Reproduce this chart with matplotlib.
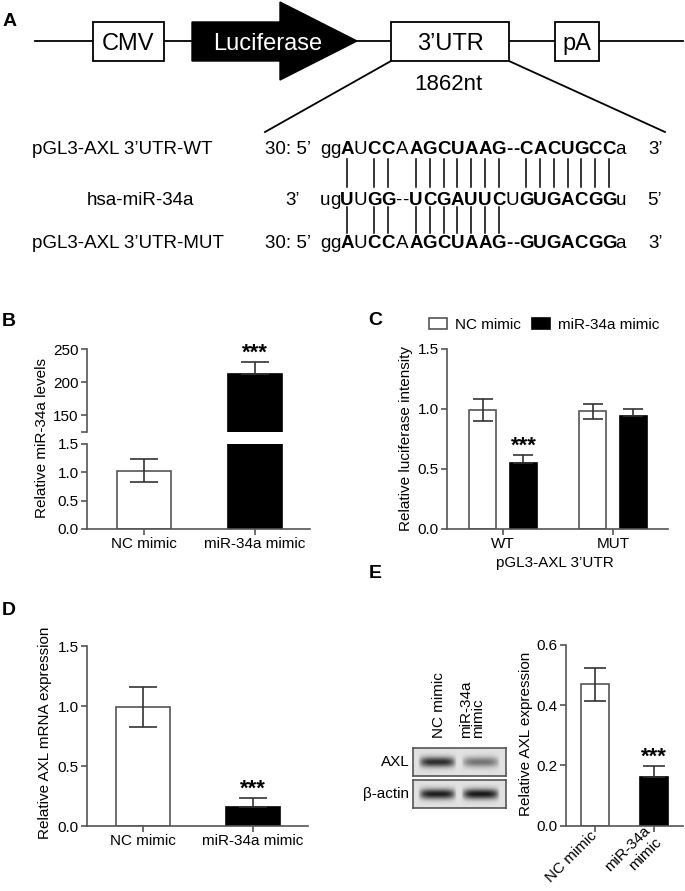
import numpy as np
import matplotlib
matplotlib.use('Agg')
import matplotlib.pyplot as plt
from matplotlib.patches import Rectangle, Polygon
from matplotlib.ticker import FormatStrFormatter

plt.rcParams['font.family'] = ['Liberation Sans', 'DejaVu Sans']

W, H = 685, 891

# --- data ---
groups_bd = ['NC mimic', 'miR-34a mimic']
mir34a_levels = [1.03, 212.0]
mir34a_err = [0.20, 18.0]

luc_groups = ['WT', 'MUT']
luc_nc = [0.99, 0.98]
luc_nc_err = [0.09, 0.065]
luc_mir = [0.55, 0.94]
luc_mir_err = [0.065, 0.06]

mrna = [0.99, 0.16]
mrna_err = [0.165, 0.075]

groups_e = ['NC mimic', 'miR-34a\nmimic']
axl_prot = [0.47, 0.163]
axl_prot_err = [0.055, 0.036]

blot_rows = ['AXL', '\u03b2-actin']
blot_levels = [[0.70, 0.42], [0.76, 0.78]]
blot_lanes = ['NC mimic', 'miR-34a\nmimic']

seq_names = ['pGL3-AXL 3\u2019UTR-WT', 'hsa-miR-34a', 'pGL3-AXL 3\u2019UTR-MUT']
seq_wt = 'ggAUCCAAGCUAAG--CACUGCCa'
seq_mir = 'ugUUGG--UCGAUUCUGUGACGGu'
seq_mut = 'ggAUCCAAGCUAAG--GUGACGGa'
bold_wt = '001011011111111111111110'
bold_mir = '001011001111111011111110'
bold_mut = '001011011111111111111110'

EDGE = '#555555'
ERR = '#333333'
fig = plt.figure(figsize=(W / 100, H / 100), dpi=100)


def px_axes(x0, y0, x1, y1):
    return fig.add_axes([x0 / W, 1 - y1 / H, (x1 - x0) / W, (y1 - y0) / H])


def style(ax):
    for s in ['top', 'right']:
        ax.spines[s].set_visible(False)
    for s in ['left', 'bottom']:
        ax.spines[s].set_color(EDGE)
        ax.spines[s].set_linewidth(1.2)
    ax.tick_params(color=EDGE, labelcolor='black', length=4, width=1.2,
                   labelsize=11, pad=2)


def bars(ax, x, vals, errs, width, face, cap):
    # white bars: full error bar; black bars: only the upper half shows
    ax.bar(x, vals, width=width, color=face, edgecolor=EDGE if face == 'white' else 'black',
           linewidth=1.2)
    lower = errs if face == 'white' else [0] * len(errs)
    ax.errorbar(x, vals, yerr=[lower, errs], fmt='none', ecolor=ERR, elinewidth=1.2,
                capsize=cap, capthick=1.2)


def stars(ax, x, top):
    ax.annotate('***', xy=(x, top), xytext=(0, 2.5), textcoords='offset points',
                ha='center', va='baseline', fontsize=16, fontweight='bold')


# --- B: broken axis ---
xb = np.arange(len(groups_bd))
axB_hi = px_axes(87, 349, 310, 431.7)
axB_lo = px_axes(87, 444, 310, 529)
for ax in (axB_hi, axB_lo):
    bars(ax, xb[:1], mir34a_levels[:1], mir34a_err[:1], 0.49, 'white', 10)
    bars(ax, xb[1:], mir34a_levels[1:], mir34a_err[1:], 0.49, 'black', 10)
    ax.set_xlim(-0.515, 1.5)
    style(ax)
axB_hi.set_ylim(125, 250)
axB_hi.set_yticks([125, 150, 200, 250], ['', '150', '200', '250'])
axB_hi.spines['bottom'].set_visible(False)
axB_hi.set_xticks([])
stars(axB_hi, xb[1], mir34a_levels[1] + mir34a_err[1])
axB_lo.set_ylim(0, 1.5)
axB_lo.set_yticks([0, 0.5, 1.0, 1.5])
axB_lo.yaxis.set_major_formatter(FormatStrFormatter('%.1f'))
axB_lo.set_xticks(xb, groups_bd)

# --- C: luciferase ---
xc = np.arange(len(luc_groups))
off, wc = 0.186, 0.245
axC = px_axes(447, 349, 668, 529)
bars(axC, xc - off, luc_nc, luc_nc_err, wc, 'white', 7)
bars(axC, xc + off, luc_mir, luc_mir_err, wc, 'black', 7)
axC.set_xlim(-0.509, 1.5)
axC.set_ylim(0, 1.5)
axC.set_yticks([0, 0.5, 1.0, 1.5])
axC.yaxis.set_major_formatter(FormatStrFormatter('%.1f'))
axC.set_xticks(xc, luc_groups)
style(axC)
axC.set_xlabel('pGL3-AXL 3\u2019UTR', fontsize=11)
axC.xaxis.set_label_coords(0.489, -0.15)
stars(axC, xc[0] + off, luc_mir[0] + luc_mir_err[0])
leg_handles = [Rectangle((0, 0), 1, 1, facecolor='white', edgecolor=EDGE, lw=1.2),
               Rectangle((0, 0), 1, 1, facecolor='black', edgecolor='black', lw=1.2)]
axC.legend(leg_handles, ['NC mimic', 'miR-34a mimic'], loc='center left',
           bbox_to_anchor=(429 / W, 1 - 325 / H), bbox_transform=fig.transFigure,
           ncol=2, frameon=False, fontsize=11, handlelength=1.18, handleheight=0.72,
           handletextpad=0.5, columnspacing=0.75, borderpad=0, borderaxespad=0)

# --- D: mRNA ---
xd = np.arange(len(groups_bd))
axD = px_axes(87, 646, 308, 826)
bars(axD, xd[:1], mrna[:1], mrna_err[:1], 0.49, 'white', 10)
bars(axD, xd[1:], mrna[1:], mrna_err[1:], 0.49, 'black', 10)
axD.set_xlim(-0.51, 1.5)
axD.set_ylim(0, 1.5)
axD.set_yticks([0, 0.5, 1.0, 1.5])
axD.yaxis.set_major_formatter(FormatStrFormatter('%.1f'))
axD.set_xticks(xd, groups_bd)
style(axD)
stars(axD, xd[1], mrna[1] + mrna_err[1])

# --- E: protein ---
xe = np.arange(len(groups_e))
axE = px_axes(565.7, 645, 683, 825.7)
bars(axE, xe[:1], axl_prot[:1], axl_prot_err[:1], 0.48, 'white', 8)
bars(axE, xe[1:], axl_prot[1:], axl_prot_err[1:], 0.48, 'black', 8)
axE.set_xlim(-0.505, 1.5)
axE.set_ylim(0, 0.6)
axE.set_yticks([0, 0.2, 0.4, 0.6])
axE.yaxis.set_major_formatter(FormatStrFormatter('%.1f'))
axE.set_xticks(xe, groups_e)
style(axE)
for lab in axE.get_xticklabels():
    lab.set_rotation(45)
    lab.set_ha('right')
    lab.set_va('center')
    lab.set_rotation_mode('anchor')
stars(axE, xe[1], axl_prot[1] + axl_prot_err[1])

# western blot panels
blot_boxes = [(413, 748, 506, 776), (413, 780, 506, 808)]
for name, levels, box in zip(blot_rows, blot_levels, blot_boxes):
    axw = px_axes(*box)
    yy = np.linspace(-1, 1, 28)[:, None]
    xx = np.linspace(0, 1, 93)[None, :]
    img = np.full((28, 93), 0.88)
    for centre, level in zip([0.26, 0.73], levels):
        horiz = np.clip(1 - ((xx - centre) / 0.21) ** 4, 0, 1)
        vert = np.exp(-(yy / 0.38) ** 2)
        img = img - level * horiz * vert
    axw.imshow(np.clip(img, 0, 1), cmap='gray', vmin=0, vmax=1, aspect='auto',
               interpolation='bilinear')
    axw.set_xticks([])
    axw.set_yticks([])
    for s in axw.spines.values():
        s.set_color(EDGE)
        s.set_linewidth(1.2)
    axw.text(-0.04, 0.5, name, transform=axw.transAxes, ha='right', va='center',
             fontsize=11)

# --- overlay in pixel coordinates ---
ov = fig.add_axes([0, 0, 1, 1])
ov.set_xlim(0, W)
ov.set_ylim(H, 0)
ov.axis('off')

# panel letters
for letter, (x, y) in zip('ABCDE', [(10, 20), (9, 319), (375, 318.5), (9, 608.5),
                                     (375, 571.5)]):
    ov.text(x, y, letter, fontsize=14, fontweight='bold', ha='center',
            va='center_baseline')

# y labels
for text, (x, y) in zip(['Relative miR-34a levels', 'Relative luciferase intensity',
                         'Relative AXL mRNA expression', 'Relative AXL expression'],
                        [(42.5, 437.5), (406, 438.5), (45.5, 733), (526, 733.5)]):
    ov.text(x, y, text, rotation=90, fontsize=11, ha='center', va='center')

# blot lane labels
for text, x in zip(blot_lanes, [439, 472]):
    ov.text(x, 738, text, rotation=90, fontsize=11, ha='left', va='center',
            rotation_mode='anchor', linespacing=0.8)

# construct schematic
ov.plot([35, 683], [41, 41], color='black', lw=1.3, zorder=1)
ov.plot([391, 265], [61, 132], color='black', lw=1.3)
ov.plot([509, 665], [61, 132], color='black', lw=1.3)
for (x0, x1), label in zip([(93, 164), (391, 509), (555, 599)], ['CMV', '3\u2019UTR', 'pA']):
    ov.add_patch(Rectangle((x0, 22), x1 - x0, 39, facecolor='white', edgecolor='black',
                           lw=1.3, zorder=2))
    ov.text((x0 + x1) / 2, 41.5, label, fontsize=17, ha='center', va='center_baseline',
            zorder=3)
ov.add_patch(Polygon([(192, 22), (280, 22), (280, 2), (357, 41), (280, 80), (280, 61),
                      (192, 61)], closed=True, facecolor='black', edgecolor='black',
                     zorder=2))
ov.text(268, 41.5, 'Luciferase', color='white', fontsize=17, ha='center',
        va='center_baseline', zorder=3)
ov.text(448, 82, '1862nt', fontsize=16, ha='center', va='center_baseline')

# sequence alignment
char_w = {'lower': 10.0, 'upper': 13.8, 'dash': 6.9}


def centres(seq, x_start=320.0):
    xs = []
    x = x_start
    for ch in seq:
        w = char_w['dash'] if ch == '-' else (char_w['upper'] if ch.isupper() else char_w['lower'])
        xs.append(x + w / 2)
        x += w
    return xs


rows = [(seq_wt, bold_wt, 153.5), (seq_mir, bold_mir, 205), (seq_mut, bold_mut, 248.5)]
row_x = []
for seq, bold, base in rows:
    xs = centres(seq)
    row_x.append(xs)
    for ch, b, x in zip(seq, bold, xs):
        ov.text(x, base, ch, fontsize=13.5, fontweight='bold' if b == '1' else 'normal',
                ha='center', va='baseline')

ov.text(32, 153.5, seq_names[0], fontsize=13.5, ha='left', va='baseline')
ov.text(141, 205, seq_names[1], fontsize=13.5, ha='center', va='baseline')
ov.text(32, 248.5, seq_names[2], fontsize=13.5, ha='left', va='baseline')
ov.text(311, 153.5, '30: 5\u2019', fontsize=13.5, ha='right', va='baseline')
ov.text(311, 248.5, '30: 5\u2019', fontsize=13.5, ha='right', va='baseline')
ov.text(648, 153.5, '3\u2019', fontsize=13.5, ha='left', va='baseline')
ov.text(648, 248.5, '3\u2019', fontsize=13.5, ha='left', va='baseline')
ov.text(285, 205, '3\u2019', fontsize=13.5, ha='left', va='baseline')
ov.text(647, 205, '5\u2019', fontsize=13.5, ha='left', va='baseline')

# base-pair ticks: Watson-Crick pairs between target row and miRNA row
pairs = {('A', 'U'), ('U', 'A'), ('G', 'C'), ('C', 'G')}
mir_pos = row_x[1]
for seq, xs, (y0, y1) in [(seq_wt, row_x[0], (159, 187)), (seq_mut, row_x[2], (207, 233))]:
    for ch, x in zip(seq, xs):
        if not ch.isupper():
            continue
        j = int(np.argmin([abs(m - x) for m in mir_pos]))
        if abs(mir_pos[j] - x) < 3 and (ch, seq_mir[j]) in pairs:
            ov.plot([x, x], [y0, y1], color='black', lw=1.1)

fig.savefig('out.png', dpi=100)
